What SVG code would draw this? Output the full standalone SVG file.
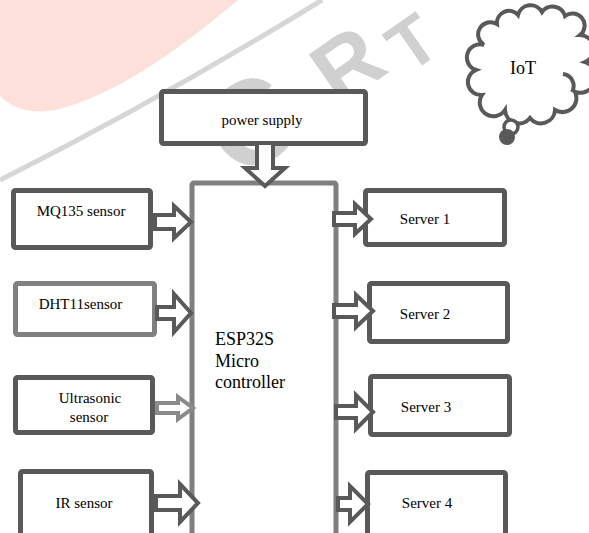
<svg xmlns="http://www.w3.org/2000/svg" width="589" height="533" viewBox="0 0 589 533">
<style>
.bx{fill:#fff;stroke:#595959;stroke-width:5}
.lt{stroke:#808080}
.ar{fill:#fff;stroke:#595959;stroke-width:4;stroke-linejoin:miter}
.arl{stroke:#8a8a8a}
.t{font-family:"Liberation Serif","Times New Roman",serif;font-size:15px;fill:#000;text-anchor:middle}
.wm{font-family:"Liberation Sans",Arial,sans-serif;font-weight:bold;fill:#d0d0d0;text-anchor:middle}
</style>
<rect width="589" height="533" fill="#fff"/>
<g id="watermark">
<path d="M0,0 L238,0 C190,40 120,95 55,110 Q20,116 0,96 Z" fill="#fde0d9"/>
<path d="M0,180 Q160,100 322,0" fill="none" stroke="#d6d6d6" stroke-width="5"/>
<text class="wm" style="font-size:120px" transform="translate(250,122) rotate(-35)" x="0" y="43">C</text>
<text class="wm" style="font-size:88px" transform="translate(347,64) rotate(-35)" x="0" y="31">R</text>
<text class="wm" style="font-size:70px" transform="translate(412,42) rotate(-35)" x="0" y="25">T</text>
</g>
<g id="esp32">
<rect class="bx lt" x="192" y="183" width="144" height="400" rx="2"/>
<text class="t" style="font-size:18px;text-anchor:start" x="215" y="345">ESP32S</text>
<text class="t" style="font-size:18px;text-anchor:start" x="215" y="367">Micro</text>
<text class="t" style="font-size:18px;text-anchor:start" x="215" y="388">controller</text>
</g>
<g id="power">
<rect class="bx" x="161.5" y="91.5" width="204" height="52" rx="2"/>
<text class="t" x="262" y="125">power supply</text>
</g>
<g id="mq135">
<rect class="bx" x="13.5" y="190.5" width="137" height="57" rx="2"/>
<text class="t" x="81" y="216">MQ135 sensor</text>
</g>
<g id="dht11">
<rect class="bx lt" x="15.5" y="283.5" width="139" height="51" rx="2"/>
<text class="t" x="80.5" y="309">DHT11sensor</text>
</g>
<g id="ultrasonic">
<rect class="bx" x="15.5" y="377.5" width="137" height="55" rx="2"/>
<text class="t" x="90" y="403">Ultrasonic</text>
<text class="t" x="89" y="422">sensor</text>
</g>
<g id="ir">
<rect class="bx" x="20.5" y="471.5" width="131" height="80" rx="2"/>
<text class="t" x="84" y="508">IR sensor</text>
</g>
<g id="server1">
<rect class="bx" x="365.5" y="190.5" width="139" height="54" rx="2"/>
<text class="t" x="425" y="224">Server 1</text>
</g>
<g id="server2">
<rect class="bx" x="369.5" y="283.5" width="138" height="58" rx="2"/>
<text class="t" x="425" y="319">Server 2</text>
</g>
<g id="server3">
<rect class="bx" x="370.5" y="376.5" width="139" height="58" rx="2"/>
<text class="t" x="426" y="412">Server 3</text>
</g>
<g id="server4">
<rect class="bx" x="367.5" y="472.5" width="138" height="80" rx="2"/>
<text class="t" x="427" y="508">Server 4</text>
</g>
<g id="iot">
<path d="M484,45 A12,12 0 0 1 497,24 A12,12 0 0 1 518,15 A13,13 0 0 1 542,12 A13,13 0 0 1 565,16 A12,12 0 0 1 580,35 A14,14 0 0 1 585,62 A14,14 0 0 1 575,92 A14,14 0 0 1 555,110 A14,14 0 0 1 530,118 A14,14 0 0 1 505,110 A13,13 0 0 1 482,95 A13,13 0 0 1 476,70 A12,12 0 0 1 484,45 Z" fill="#fff" stroke="#595959" stroke-width="4"/>
<path d="M563,74 A12,12 0 0 1 572,92" fill="none" stroke="#595959" stroke-width="4"/>
<circle cx="511" cy="127" r="7" fill="#fff" stroke="#595959" stroke-width="3.5"/>
<circle cx="507" cy="137" r="8" fill="#595959"/>
<text class="t" style="font-size:18px" x="523" y="74">IoT</text>
</g>
<g id="connectors">
<polygon class="ar" points="257,143 273,143 273,168 285,168 265,186 245,168 257,168"/>
<polygon class="ar" points="155,215 174,215 174,206 191,222 174,238 174,229 155,229"/>
<polygon class="ar" points="157,307 174,307 174,294 191,313 174,332 174,319 157,319"/>
<polygon class="ar arl" points="157,403 178,403 178,397 193,408 178,419 178,413 157,413"/>
<polygon class="ar" points="156,496 180,496 180,484 198,503 180,522 180,510 156,510"/>
<polygon class="ar" points="334,213 355,213 355,204 371,219 355,234 355,225 334,225"/>
<polygon class="ar" points="334,305 356,305 356,295 373,311 356,327 356,317 334,317"/>
<polygon class="ar" points="336,406 356,406 356,395 373,412 356,429 356,418 336,418"/>
<polygon class="ar" points="338,498 350,498 350,486 368,504 350,522 350,510 338,510"/>
</g>
</svg>
